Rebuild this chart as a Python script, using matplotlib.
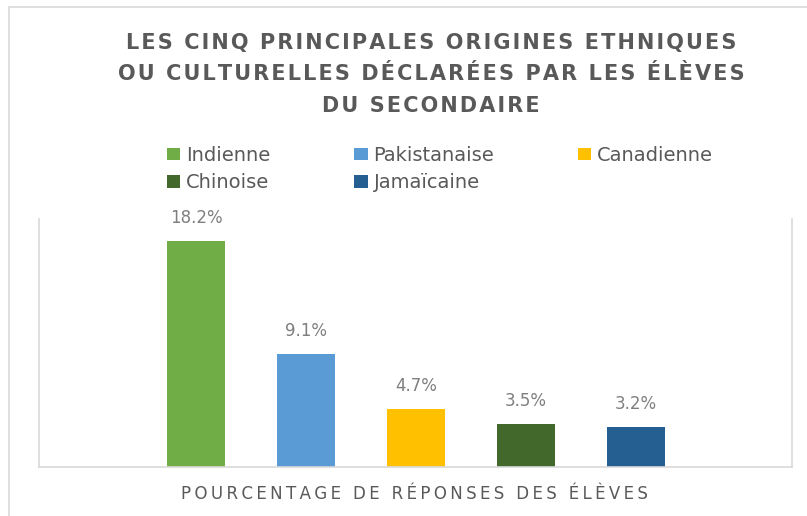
import matplotlib.pyplot as plt
from matplotlib.patches import Rectangle

origines = ['Indienne', 'Pakistanaise', 'Canadienne', 'Chinoise', 'Jamaïcaine']
pourcentages = [18.2, 9.1, 4.7, 3.5, 3.2]
couleurs = ['#70ad47', '#5b9bd5', '#ffc000', '#43682b', '#255e91']

titre = ['LES CINQ PRINCIPALES ORIGINES ETHNIQUES',
         'OU CULTURELLES DÉCLARÉES PAR LES ÉLÈVES',
         'DU SECONDAIRE']
xlabel = 'POURCENTAGE DE RÉPONSES DES ÉLÈVES'


def espace(s, sep='\u2009'):
    # letter spacing with thin spaces
    return sep.join(s)


plt.rcParams['font.family'] = ['DejaVu Sans']
gris = '#595959'

fig = plt.figure(figsize=(8.07, 5.16), dpi=100)
# outer chart border
fig.patches.append(Rectangle((9 / 807, -0.1), 1.2, 1 - 7 / 516 + 0.1, transform=fig.transFigure,
                             fill=False, edgecolor='#d9d9d9', linewidth=1.2))

ax = fig.add_axes([39 / 807, 49 / 516, 753 / 807, 248 / 516])

x = range(len(origines))
barres = []
for i in x:
    b = ax.bar(i, pourcentages[i], width=0.527, color=couleurs[i], label=origines[i])
    ax.bar_label(b, fmt='%.1f%%', padding=10, color='#7f7f7f', fontsize=12)
    barres.append(b)

ax.set_xlim(-1.427, 5.418)
ax.set_ylim(0, 20)
ax.set_xticks([])
ax.set_yticks([])
ax.spines['top'].set_visible(False)
for s in ['left', 'right', 'bottom']:
    ax.spines[s].set_color('#d9d9d9')
    ax.spines[s].set_linewidth(1.2)

for k, ligne in enumerate(titre):
    fig.text(431 / 807, 1 - (43 + 31.5 * k) / 516, espace(ligne, '\u200a'), ha='center', va='center',
             fontsize=15, fontweight='bold', color=gris)

fig.text(414 / 807, 1 - 494 / 516, espace(xlabel), ha='center', va='center',
         fontsize=12, color=gris)

# row-major order for a 3-column legend
ordre = [0, 3, 1, 4, 2]
fig.legend([barres[i] for i in ordre], [origines[i] for i in ordre],
           loc='center', bbox_to_anchor=(440 / 807, 1 - 169 / 516), ncol=3, frameon=False,
           fontsize=14, labelcolor=gris, handlelength=0.7, handleheight=0.6,
           handletextpad=0.3, columnspacing=4.3, labelspacing=0.45)

fig.savefig('out.png', dpi=100)
